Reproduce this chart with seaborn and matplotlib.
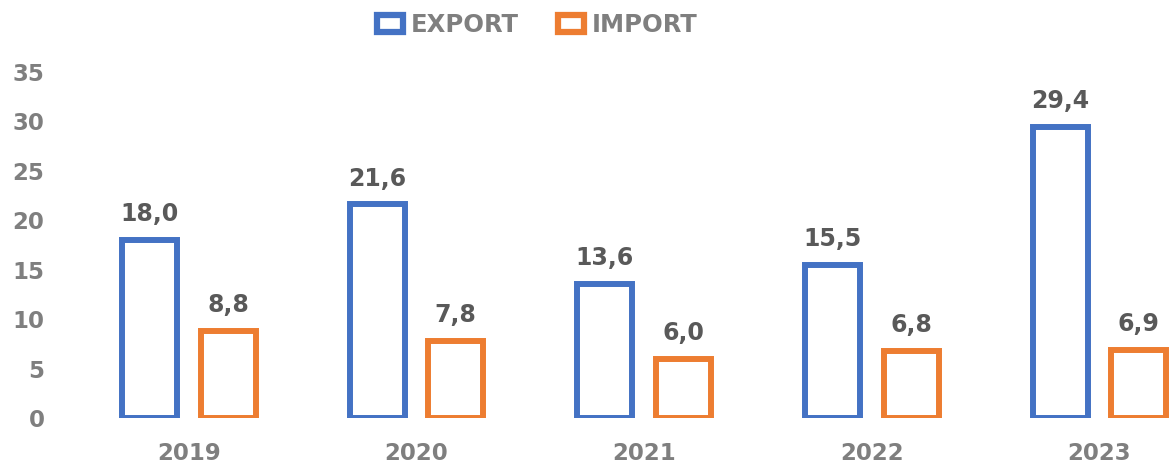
import matplotlib
matplotlib.use("Agg")
import matplotlib.pyplot as plt
import seaborn as sns
import pandas as pd
from matplotlib.patches import Rectangle

years = ["2019", "2020", "2021", "2022", "2023"]
export_vals = [18.0, 21.6, 13.6, 15.5, 29.4]
import_vals = [8.8, 7.8, 6.0, 6.8, 6.9]
series = ["EXPORT", "IMPORT"]
colors = ["#4472C4", "#ED7D31"]
yticks = [0, 5, 10, 15, 20, 25, 30, 35]

df = pd.DataFrame({
    "year": years * 2,
    "value": export_vals + import_vals,
    "series": [series[0]] * len(years) + [series[1]] * len(years),
})

sns.set_style("white")
plt.rcParams["font.family"] = ["DejaVu Sans"]

fig = plt.figure(figsize=(11.7, 4.63), dpi=100)
ax = fig.add_axes([75 / 1170, 45 / 463, 1 - 75 / 1170, 346 / 463])

sns.barplot(data=df, x="year", y="value", hue="series", hue_order=series,
            palette=colors, fill=False, width=0.69, gap=0.30,
            linewidth=4.3, errorbar=None, legend=False, ax=ax)

for cont in ax.containers:
    ax.bar_label(cont, fmt=lambda v: f"{v:.1f}".replace(".", ","),
                 padding=10, fontsize=17, fontweight="bold", color="#595959")

ax.set_ylim(0, 35)
ax.set_xlim(-0.5, 4.31)
ax.set_yticks(yticks)
ax.set_xlabel("")
ax.set_ylabel("")
for s in ax.spines.values():
    s.set_visible(False)
ax.tick_params(axis="y", length=0, pad=22, labelsize=16.5, labelcolor="#7F7F7F")
ax.tick_params(axis="x", length=0, pad=17, labelsize=16.5, labelcolor="#7F7F7F")
for lbl in ax.get_xticklabels() + ax.get_yticklabels():
    lbl.set_fontweight("bold")

handles = [Rectangle((0, 0), 1, 1, facecolor="white", edgecolor=c, linewidth=4.5)
           for c in colors]
leg = fig.legend(handles, series, loc="center", bbox_to_anchor=(0.459, 0.946),
                 ncol=2, frameon=False, handlelength=1.1, handleheight=0.7,
                 handletextpad=0.3, columnspacing=1.6,
                 prop={"size": 17.5, "weight": "bold"})
for t in leg.get_texts():
    t.set_color("#7F7F7F")

fig.savefig("out.png", dpi=100)
